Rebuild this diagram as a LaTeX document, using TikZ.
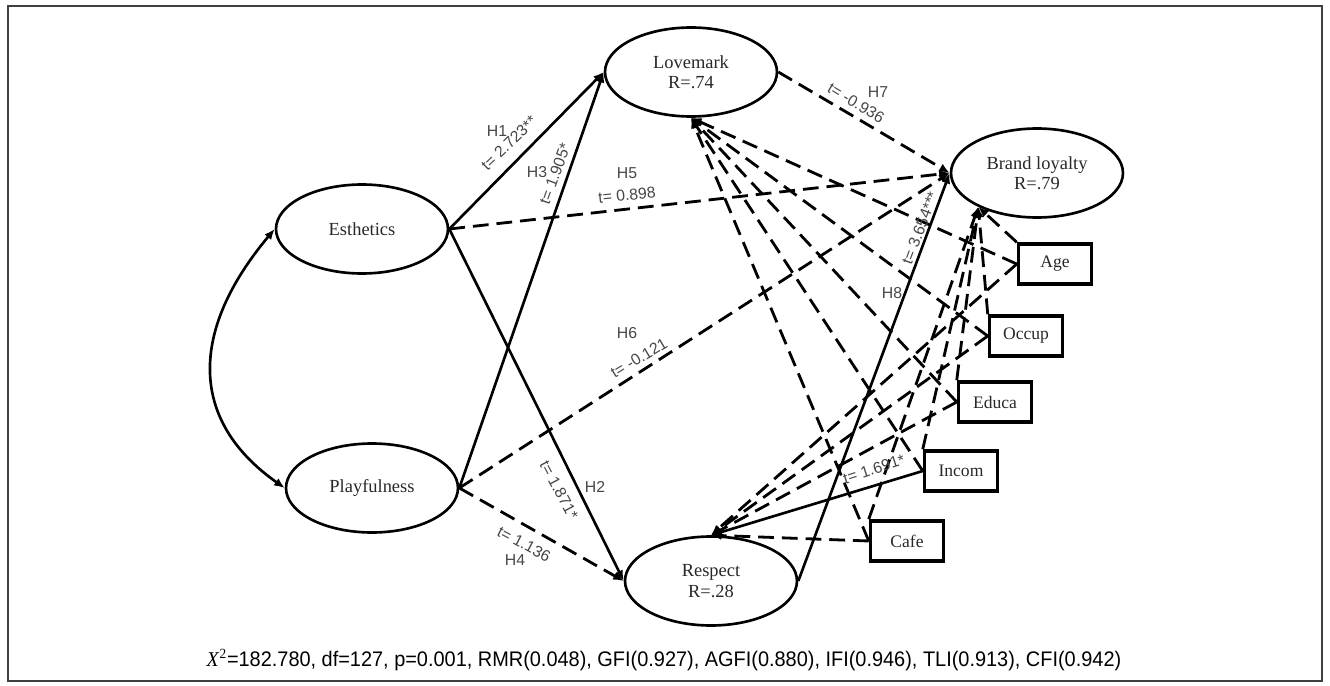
\documentclass[tikz,border=0pt]{standalone}
\usepackage{fontspec}
\setmainfont{Liberation Serif}
\setsansfont{Liberation Sans}
\usepackage{graphicx}
\usetikzlibrary{shapes.geometric,arrows.meta,positioning}
\definecolor{semtext}{RGB}{40,40,40}
\definecolor{semlabel}{RGB}{70,70,70}
\tikzset{
    latent/.style={ellipse, draw, line width=1.5pt, minimum width=3.44cm, minimum height=1.78cm, inner sep=0pt, align=center, text=semtext, font=\fontsize{10.5}{11.5}\selectfont},
    observed/.style={rectangle, draw, line width=2pt, minimum width=1.46cm, minimum height=0.80cm, inner sep=0pt, text=semtext, font=\fontsize{10}{12}\selectfont},
    sig/.style={line width=1.5pt, -{Latex[length=6pt,width=5pt]}},
    nsig/.style={sig, line width=1.6pt, dash pattern=on 9pt off 4.5pt},
    cov/.style={line width=1.5pt, {Latex[length=6pt,width=5pt]}-{Latex[length=6pt,width=5pt]}},
    tlabel/.style={font=\sffamily\fontsize{9}{10}\selectfont, text=semlabel, inner sep=0pt},
    fitline/.style={font=\sffamily\fontsize{12}{14}\selectfont, inner sep=0pt},
}

\begin{document}
\begin{tikzpicture}[x=0.02cm, y=-0.02cm]
    \useasboundingbox (0,0) rectangle (1330,686);
    \draw[line width=0.6pt, black!75] (8,6) rectangle (1322,681);

    % Latent constructs
    \node[latent] (E) at (362,229) {Esthetics};
    \node[latent] (P) at (372,488) {Playfulness};
    \node[latent] (L) at (691,72) {Lovemark\\R=.74};
    \node[latent] (BL) at (1037,173) {Brand loyalty\\R=.79};
    \node[latent] (R) at (711,581) {Respect\\R=.28};

    % Control variables
    \node[observed] (age) at (1055,264) {Age};
    \node[observed] (occ) at (1026,336) {Occup};
    \node[observed] (edu) at (995,402) {Educa};
    \node[observed] (inc) at (961,471) {Incom};
    \node[observed] (caf) at (907,541) {Cafe};

    % Controls to the constructs
    \foreach \c in {age,occ,edu,inc,caf} {
        \draw[nsig] (\c.west) -- (L.south);
        \draw[nsig] (\c.north west) -- (BL.210);
    }
    \foreach \c in {age,occ,edu,caf}
        \draw[nsig] (\c.west) -- (R.north);
    \draw[sig] (inc.west) -- (R.north);

    % Hypothesised paths
    \draw[sig] (E.east) -- (L.west);
    \draw[sig] (P.east) -- (L.west);
    \draw[sig] (E.east) -- (R.west);
    \draw[nsig] (P.east) -- (R.west);
    \draw[nsig] (E.east) -- (BL.west);
    \draw[nsig] (P.east) -- (BL.west);
    \draw[nsig] (L.east) -- (BL.west);
    \draw[sig] (R.east) -- (BL.west);

    % Covariance
    \draw[cov] (E.west) .. controls (190,330) and (188,420) .. (P.west);

    % Path labels
    \node[tlabel] (h1) at (497,131) {H1};
    \node[tlabel, rotate=44] (t1) at (509,143) {t= 2.723**};
    \node[tlabel] (h3) at (537,172) {H3};
    \node[tlabel, rotate=70] (t3) at (555,174) {t= 1.905*};
    \node[tlabel] (h5) at (627,173) {H5};
    \node[tlabel, rotate=6] (t5) at (627,195) {t= 0.898};
    \node[tlabel] (h2) at (595,487) {H2};
    \node[tlabel, rotate=-62] (t2) at (559,490) {t= 1.871*};
    \node[tlabel] (h4) at (515,560) {H4};
    \node[tlabel, rotate=-28] (t4) at (524,544) {t= 1.136};
    \node[tlabel] (h6) at (627,333) {H6};
    \node[tlabel, rotate=31] (t6) at (639,358) {t= -0.121};
    \node[tlabel] (h7) at (878,92) {H7};
    \node[tlabel, rotate=-31] (t7) at (856,103) {t= -0.936};
    \node[tlabel] (h8) at (892,293) {H8};
    \node[tlabel, rotate=69] (t8) at (920,228) {t= 3.654***};
    \node[tlabel, rotate=18] (tc) at (874,469) {t= 1.691*};

    % Fit indices
    \node[fitline] (fit) at (664,660) {\scalebox{0.945}[1]{\textit{\rmfamily X}\textsuperscript{\rmfamily 2}=182.780,\ df=127,\ p=0.001,\ RMR(0.048),\ GFI(0.927),\ AGFI(0.880),\ IFI(0.946),\ TLI(0.913),\ CFI(0.942)}};
\end{tikzpicture}
\end{document}
